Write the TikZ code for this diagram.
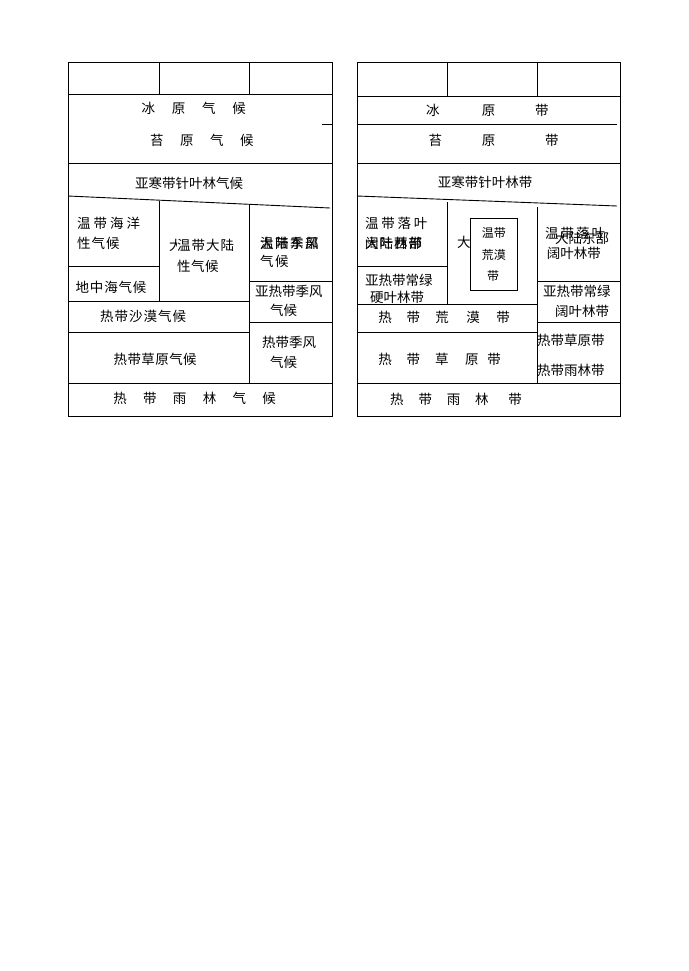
\documentclass[tikz,border=0pt]{standalone}
\usepackage{fontspec}
\newfontfamily\cjk{Noto Sans CJK SC}
\begin{document}
\begin{tikzpicture}[x=1pt,y=-1pt,
  ln/.style={line width=0.9pt,black},
  t/.style={anchor=west,inner sep=0pt,font=\cjk\fontsize{13.5}{14}\selectfont},
  ts/.style={anchor=west,inner sep=0pt,font=\cjk\fontsize{12}{13}\selectfont},
  wt/.style={t,fill=white}]
\useasboundingbox[fill=white] (0,0) rectangle (688,971);
% ---------- left table ----------
\draw[ln] (68,62) rectangle (332,416);
\draw[ln] (68,94) -- (332,94);
\draw[ln] (159,62) -- (159,94);
\draw[ln] (249,62) -- (249,94);
\draw[ln] (322,124) -- (332,124);
\draw[ln] (68,163) -- (332,163);
\draw[ln] (68,196) -- (330,208);
\draw[ln] (159,201) -- (159,301);
\draw[ln] (249,205) -- (249,383);
\draw[ln] (68,266) -- (159,266);
\draw[ln] (68,301) -- (249,301);
\draw[ln] (68,332) -- (249,332);
\draw[ln] (249,281) -- (332,281);
\draw[ln] (249,322) -- (332,322);
\draw[ln] (68,383) -- (332,383);
% texts
\node[t] (l1) at (141.5,108) {冰\hspace{16.7pt}原\hspace{16.7pt}气\hspace{16.7pt}候};
\node[t] (l2) at (150,140) {苔\hspace{16.5pt}原\hspace{16.5pt}气\hspace{16.5pt}候};
\node[t] (l3) at (135,183) {亚寒带针叶林气候};
\node[t] (l4) at (77,223.5) {温\hspace{3pt}带\hspace{3pt}海\hspace{3pt}洋};
\node[t] (l5) at (77,243.5) {性\hspace{1pt}气\hspace{1pt}候};
\node[t] (l6) at (75.5,287) {地\hspace{0.8pt}中\hspace{0.8pt}海\hspace{0.8pt}气\hspace{0.8pt}候};
\node[t] (l7a) at (169,245) {大};
\node[wt] (l7) at (177,245) {温\hspace{1pt}带\hspace{1pt}大\hspace{1pt}陆};
\node[t] (l8) at (177,266.5) {性\hspace{0.5pt}气\hspace{0.5pt}候};
\node[t] (l9a) at (260,243) {温\hspace{1.5pt}带\hspace{1.5pt}季\hspace{1.5pt}风};
\node[t] (l9b) at (260,243) {大\hspace{1.5pt}陆\hspace{1.5pt}东\hspace{1.5pt}部};
\node[t] (l10) at (260,261.5) {气\hspace{1.5pt}候};
\node[t] (l11) at (255,291.5) {亚热带季风};
\node[t] (l12) at (270,310) {气候};
\node[t] (l13) at (262,342.3) {热带季风};
\node[t] (l14) at (270,362) {气候};
\node[t] (l15) at (100,316.7) {热\hspace{1pt}带\hspace{1pt}沙\hspace{1pt}漠\hspace{1pt}气\hspace{1pt}候};
\node[t] (l16) at (113.5,359) {热\hspace{0.4pt}带\hspace{0.4pt}草\hspace{0.4pt}原\hspace{0.4pt}气\hspace{0.4pt}候};
\node[t] (l17) at (113.2,398) {热\hspace{16.3pt}带\hspace{16.3pt}雨\hspace{16.3pt}林\hspace{16.3pt}气\hspace{16.3pt}候};
% ---------- right table ----------
\draw[ln] (357,62) rectangle (620,416);
\draw[ln] (357,96) -- (620,96);
\draw[ln] (447,62) -- (447,96);
\draw[ln] (537,62) -- (537,96);
\draw[ln] (357,124) -- (617,124);
\draw[ln] (357,163) -- (620,163);
\draw[ln] (357,196) -- (617,206);
\draw[ln] (447,202) -- (447,304);
\draw[ln] (537,207) -- (537,383);
\draw[ln] (357,266) -- (447,266);
\draw[ln] (357,304) -- (537,304);
\draw[ln] (357,332) -- (537,332);
\draw[ln] (537,281) -- (620,281);
\draw[ln] (537,322) -- (620,322);
\draw[ln] (357,383) -- (620,383);
% texts
\node[t] (r1) at (426,110) {冰\hspace{42.1pt}原\hspace{39.9pt}带};
\node[t] (r2) at (428.3,140) {苔\hspace{39.8pt}原\hspace{49.9pt}带};
\node[t] (r3) at (437.7,182) {亚寒带针叶林带};
\node[t] (r4) at (365,223.5) {温\hspace{2.7pt}带\hspace{2.7pt}落\hspace{2.7pt}叶};
\node[t] (r5a) at (365,243.5) {大\hspace{1pt}陆\hspace{1pt}西\hspace{1pt}部};
\node[t] (r5b) at (365,243.5) {阔\hspace{1pt}叶\hspace{1pt}林\hspace{1pt}带};
\node[t] (r6) at (365,280) {亚热带常绿};
\node[t] (r7) at (370,297) {硬叶林带};
\node[t] (r8) at (457,242) {大};
\node[draw,line width=0.9pt,fill=white,inner sep=0pt,minimum width=46.5pt,minimum height=72pt,anchor=north west] (box) at (470,218) {};
\node[ts] (b1) at (481.7,233.3) {温带};
\node[ts] (b2) at (481.7,255) {荒漠};
\node[ts] (b3) at (487,276) {带};
\node[t] (r9a) at (545,233.3) {温\hspace{2pt}带\hspace{2pt}落\hspace{2pt}叶};
\node[t] (r9b) at (555,238.5) {大陆东部};
\node[t] (r10) at (546.7,253.3) {阔叶林带};
\node[t] (r11) at (543,291.7) {亚热带常绿};
\node[t] (r12) at (555,311) {阔叶林带};
\node[t] (r13) at (537,340) {热带草原带};
\node[t] (r14) at (537,370) {热带雨林带};
\node[t] (r15) at (378.2,317.5) {热\hspace{14.8pt}带\hspace{15.2pt}荒\hspace{17.5pt}漠\hspace{16.5pt}带};
\node[t] (r16) at (378.2,359.5) {热\hspace{14.8pt}带\hspace{14.9pt}草\hspace{16.5pt}原\hspace{8.8pt}带};
\node[t] (r17) at (390,399.5) {热\hspace{14.8pt}带\hspace{14.8pt}雨\hspace{14.9pt}林\hspace{19.8pt}带};
\end{tikzpicture}
\end{document}
